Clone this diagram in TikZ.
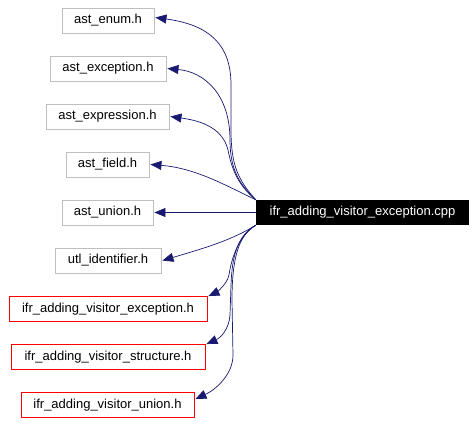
\documentclass[tikz,border=0pt]{standalone}
\usepackage{fontspec}
\setmainfont{Liberation Sans}
\usetikzlibrary{arrows.meta}
\definecolor{edgeblue}{HTML}{191970}
\definecolor{greybox}{HTML}{BFBFBF}
\tikzset{
  hbox/.style={draw=greybox, line width=0.9pt, minimum height=25pt, inner sep=0pt, font=\fontsize{13}{15}\selectfont},
  rbox/.style={draw=red, line width=0.9pt, minimum height=25pt, inner sep=0pt, font=\fontsize{13}{15}\selectfont},
  mainbox/.style={fill=black, text=white, minimum height=25pt, inner sep=0pt, font=\fontsize{13}{15}\selectfont},
  dep/.style={draw=edgeblue, line width=0.7pt, -{Triangle[length=11pt,width=9pt]}},
}
\begin{document}
\begin{tikzpicture}[x=1pt,y=-1pt]
\useasboundingbox (0,0) rectangle (476,423);
\node[mainbox, minimum width=213pt] (cpp) at (362.5,212.5) {ifr\_adding\_visitor\_exception.cpp};
\node[hbox, minimum width=92pt] (enum) at (108,20.5) {ast\_enum.h};
\node[hbox, minimum width=116pt] (exc) at (108,68.5) {ast\_exception.h};
\node[hbox, minimum width=123pt] (expr) at (107.5,116.5) {ast\_expression.h};
\node[hbox, minimum width=83pt] (field) at (107.5,164.5) {ast\_field.h};
\node[hbox, minimum width=91pt] (union) at (107.5,212.5) {ast\_union.h};
\node[hbox, minimum width=106pt] (utl) at (108,260.5) {utl\_identifier.h};
\node[rbox, minimum width=198pt] (ifrexc) at (108,309) {ifr\_adding\_visitor\_exception.h};
\node[rbox, minimum width=194pt] (ifrstr) at (108,357) {ifr\_adding\_visitor\_structure.h};
\node[rbox, minimum width=173pt] (ifrun) at (107.5,405) {ifr\_adding\_visitor\_union.h};
\coordinate (s1) at (cpp.north west);
\coordinate (s3) at (cpp.south west);
\draw[dep] (s1) .. controls (238,180) and (231,165) .. (231,130) -- (231,85) .. controls (231,45) and (210,25) .. ([xshift=1pt,yshift=3pt]enum.east);
\draw[dep] (s1) .. controls (240,185) and (230,170) .. (230,140) .. controls (230,95) and (205,72) .. ([xshift=1pt]exc.east);
\draw[dep] (s1) .. controls (238,185) and (232,170) .. (228,150) .. controls (222,125) and (195,120) .. ([xshift=1pt]expr.east);
\draw[dep] (s1) .. controls (225,185) and (195,168) .. ([xshift=1pt]field.east);
\draw[dep] (cpp.west) -- ([xshift=1pt]union.east);
\draw[dep] (s3) .. controls (232,240) and (205,248) .. ([xshift=1pt]utl.east);
\draw[dep] (s3) .. controls (240,235) and (232,255) .. (229,275) .. controls (227,285) and (215,293) .. ([xshift=1pt]ifrexc.north east);
\draw[dep] (s3) .. controls (238,235) and (232,255) .. (231,285) -- (230,315) .. controls (229,330) and (220,338) .. ([xshift=1pt]ifrstr.north east);
\draw[dep] (s3) .. controls (238,235) and (232,260) .. (232,300) -- (233,355) .. controls (233,375) and (215,390) .. ([xshift=1pt,yshift=6pt]ifrun.east);
\end{tikzpicture}
\end{document}
